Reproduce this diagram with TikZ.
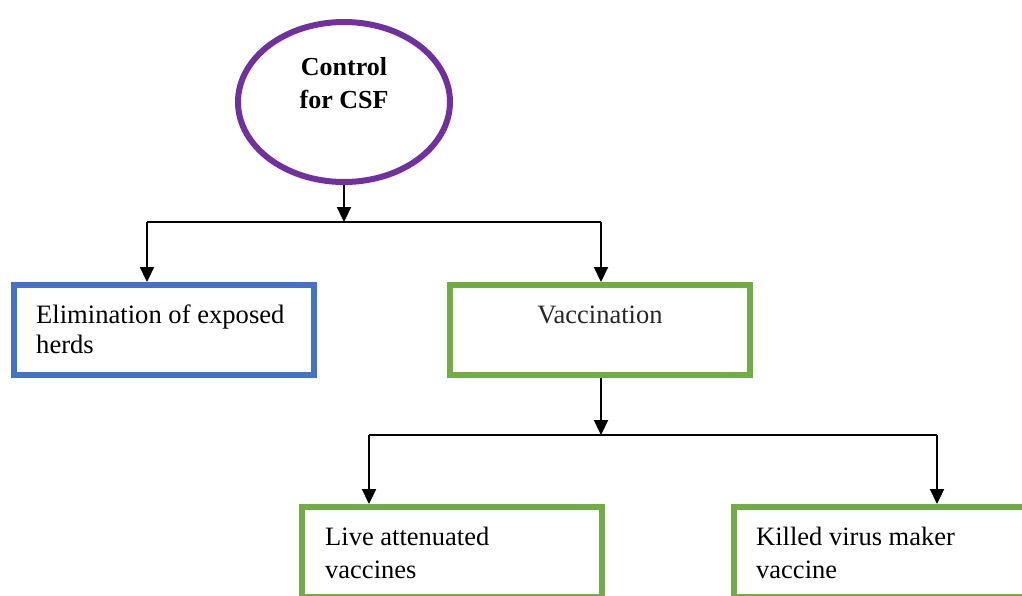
\documentclass[tikz,border=0pt]{standalone}
\usepackage{fontspec}
\setmainfont{Liberation Serif}
\usetikzlibrary{shapes.geometric,arrows.meta}
\definecolor{cpurple}{HTML}{7030A0}
\definecolor{cblue}{HTML}{4472C4}
\definecolor{cgreen}{HTML}{70AD47}
\definecolor{cgray}{HTML}{262626}
\begin{document}
\begin{tikzpicture}[x=1pt,y=-1pt,
  box/.style={draw, line width=6pt, rectangle, minimum width=300pt, minimum height=90pt, inner sep=0pt},
  txt/.style={anchor=base west, align=left, inner sep=0pt, font=\fontsize{26.5}{33}\selectfont},
  conn/.style={line width=2.2pt, draw=black},
  arr/.style={conn, -{Triangle[length=15pt,width=14pt]}}]
\clip (0,0) rectangle (1022,595);
\fill[white] (0,0) rectangle (1022,595);
% root
\node[ellipse, draw=cpurple, line width=6pt, minimum width=212pt, minimum height=160pt, inner sep=0pt] (ctrl) at (344,102) {};
\node[anchor=base, align=center, inner sep=0pt, font=\fontsize{26}{33}\selectfont\bfseries] (ctrltxt) at (344,108) {Control\\for CSF};
% level 1
\node[box, draw=cblue] (elim) at (164,330) {};
\node[txt, font=\fontsize{26.6}{30.5}\selectfont] (elimtxt) at (36,353.5) {Elimination of exposed\\herds};
\node[box, draw=cgreen] (vacc) at (600,330) {};
\node[anchor=base, inner sep=0pt, text=cgray, font=\fontsize{26.5}{32}\selectfont] (vacctxt) at (600,323) {Vaccination};
% level 2
\node[box, draw=cgreen] (live) at (451.5,552) {};
\node[txt] (livetxt) at (325,578) {Live attenuated\\vaccines};
\node[box, draw=cgreen] (kill) at (884,552) {};
\node[txt] (killtxt) at (756,578) {Killed virus maker\\vaccine};
% connectors
\coordinate (j1) at (344,222);
\coordinate (j1l) at (147,222);
\coordinate (j1r) at (601,222);
\draw[arr] (ctrl.south) -- (j1);
\draw[conn] (j1l) -- (j1r);
\draw[arr] (j1l) -- (j1l |- elim.north);
\draw[arr] (j1r) -- (j1r |- vacc.north);
\coordinate (j2) at (601,435);
\coordinate (j2l) at (369,435);
\coordinate (j2r) at (937,435);
\draw[arr] (j2 |- vacc.south) -- (j2);
\draw[conn] (j2l) -- (j2r);
\draw[arr] (j2l) -- (j2l |- live.north);
\draw[arr] (j2r) -- (j2r |- kill.north);
\end{tikzpicture}
\end{document}
